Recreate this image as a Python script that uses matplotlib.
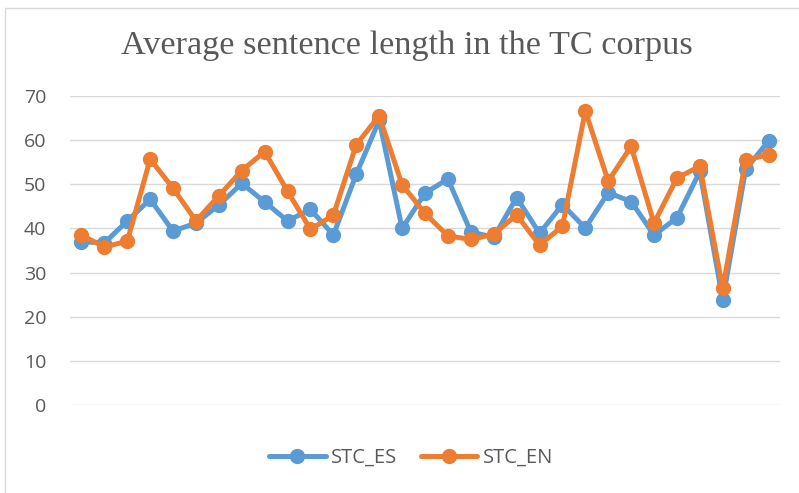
import matplotlib.pyplot as plt
import matplotlib.patches as patches

# average sentence length per text
stc_es = [37.0, 36.7, 41.7, 46.6, 39.4, 41.2, 45.3, 50.2, 46.0, 41.7, 44.3,
          38.5, 52.3, 64.5, 40.0, 48.0, 51.2, 39.2, 38.0, 47.0, 38.9,
          45.4, 40.1, 48.1, 46.1, 38.5, 42.4, 52.9, 23.8, 53.4, 59.8]
stc_en = [38.5, 35.8, 37.1, 55.7, 49.1, 41.7, 47.4, 53.1, 57.4, 48.4, 39.8,
          43.0, 59.0, 65.5, 49.9, 43.4, 38.3, 37.5, 38.7, 43.1, 36.2,
          40.5, 66.6, 50.7, 58.6, 41.2, 51.4, 54.1, 26.4, 55.5, 56.7]
yticks = [0, 10, 20, 30, 40, 50, 60, 70]

BLUE = "#5B9BD5"
ORANGE = "#ED7D31"
GRAY = "#595959"


def main():
    fig = plt.figure(figsize=(7.99, 4.93), dpi=100)
    fig.patch.set_facecolor("white")

    # chart frame (runs off the right and bottom edges)
    frame = patches.Rectangle(
        (5 / 799, -0.05), 1.2, (493 - 8) / 493 + 0.05,
        transform=fig.transFigure, fill=False, edgecolor="#D9D9D9",
        linewidth=1.0,
    )
    fig.patches.append(frame)

    ax = fig.add_axes([70 / 799, (493 - 405) / 493, 710 / 799, 309 / 493])
    x = list(range(len(stc_es)))

    ax.plot(x, stc_es, color=BLUE, linewidth=3.6, marker="o", markersize=10,
            label="STC_ES", solid_joinstyle="round", solid_capstyle="round")
    ax.plot(x, stc_en, color=ORANGE, linewidth=3.6, marker="o", markersize=10,
            label="STC_EN", solid_joinstyle="round", solid_capstyle="round")

    ax.set_xlim(-0.5, len(x) - 0.5)
    ax.set_ylim(0, 70)
    ax.set_yticks(yticks)
    ax.set_xticks([])
    ax.grid(axis="y", color="#D9D9D9", linewidth=1.0)
    ax.set_axisbelow(True)
    for s in ax.spines.values():
        s.set_visible(False)
    ax.tick_params(axis="y", length=0, pad=17, labelsize=14, labelcolor=GRAY)
    for lab in ax.get_yticklabels():
        lab.set_fontfamily("Open Sans")

    fig.text(407 / 799, (493 - 46) / 493, "Average sentence length in the TC corpus",
             ha="center", va="center", fontsize=24.7, color=GRAY,
             fontfamily="Liberation Serif")

    leg = fig.legend(loc="center", bbox_to_anchor=(411 / 799, (493 - 458) / 493),
                     ncol=2, frameon=False, handlelength=2.8, columnspacing=1.2,
                     handletextpad=0.25,
                     prop={"family": "Open Sans", "size": 14.5})
    for t in leg.get_texts():
        t.set_color(GRAY)

    plt.savefig("out.png", dpi=100, facecolor="white")


if __name__ == "__main__":
    main()
